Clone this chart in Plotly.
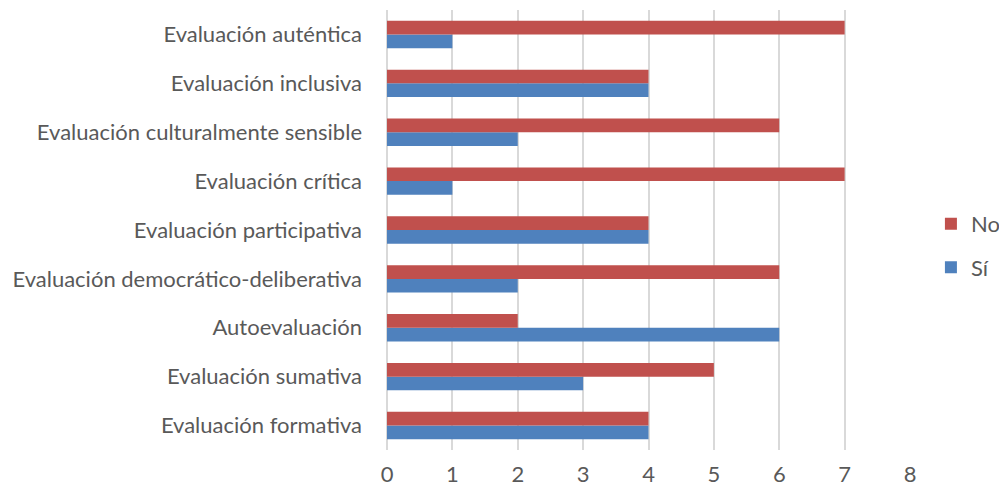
import plotly.graph_objects as go

categories = ["Evaluación formativa", "Evaluación sumativa", "Autoevaluación",
              "Evaluación democrático-deliberativa", "Evaluación participativa",
              "Evaluación crítica", "Evaluación culturalmente sensible",
              "Evaluación inclusiva", "Evaluación auténtica"]
si_values = [4, 3, 6, 2, 4, 1, 2, 4, 1]
no_values = [4, 5, 2, 6, 4, 7, 6, 4, 7]
x_ticks = [0, 1, 2, 3, 4, 5, 6, 7, 8]

FONT = "Lato"
TXT = "#595959"
FS = 22

fig = go.Figure()
fig.add_trace(go.Bar(y=categories, x=si_values, name="Sí", orientation="h",
                     marker=dict(color="#4F81BD", line=dict(width=0)),
                     legendgroup="si", legendrank=2))
fig.add_trace(go.Bar(y=categories, x=no_values, name="No", orientation="h",
                     marker=dict(color="#C0504D", line=dict(width=0)),
                     legendgroup="no", legendrank=1))

fig.update_layout(
    width=999, height=481,
    margin=dict(l=379, r=97, t=2, b=39, autoexpand=False),
    paper_bgcolor="white", plot_bgcolor="white",
    barmode="group", bargap=0.44, bargroupgap=0,
    font=dict(family=FONT, size=FS, color=TXT),
    legend=dict(x=1.04, y=0.464, xanchor="left", yanchor="middle",
                traceorder="grouped", tracegroupgap=12,
                font=dict(family=FONT, size=FS, color=TXT),
                bgcolor="rgba(0,0,0,0)"),
    xaxis=dict(range=[0, 8], tickvals=x_ticks, showgrid=True,
               gridcolor="#D9D9D9", gridwidth=2, zeroline=True,
               zerolinecolor="#D9D9D9", zerolinewidth=2,
               showline=False, ticks="", ticklabelstandoff=9,
               tickfont=dict(family=FONT, size=FS, color=TXT)),
    yaxis=dict(categoryorder="array", categoryarray=categories,
               showgrid=False, showline=False, ticks="",
               ticklabelstandoff=24,
               tickfont=dict(family=FONT, size=FS, color=TXT)),
)

fig.write_html("out.html")
